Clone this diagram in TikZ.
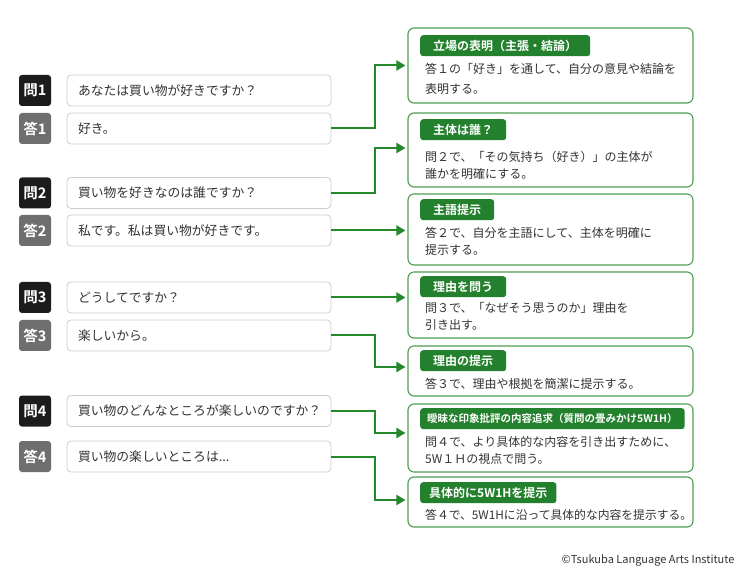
\documentclass[tikz,border=0pt]{standalone}
\usepackage{fontspec}
\setmainfont{Noto Sans CJK JP}[BoldFont={Noto Sans CJK JP Bold}]
\usetikzlibrary{arrows.meta}
\definecolor{qdark}{HTML}{1C1C1C}
\definecolor{agray}{HTML}{6E6E6E}
\definecolor{tagGreen}{HTML}{23802D}
\definecolor{boxGreen}{HTML}{4E9D4E}
\definecolor{lineGreen}{HTML}{24882C}
\definecolor{txt}{HTML}{333333}
\begin{document}
\begin{tikzpicture}[x=1pt,y=-1pt,
    qlabel/.style={rounded corners=3pt, fill=qdark, text=white, font=\fontsize{14.5}{14.5}\selectfont\bfseries, minimum width=32pt, minimum height=31pt, inner sep=0pt},
    alabel/.style={qlabel, fill=agray},
    tbox/.style={rounded corners=4pt, draw=gray!40, line width=0.8pt, fill=white, minimum height=31pt, text width=242pt, inner xsep=11pt, align=left, text=txt, font=\fontsize{12.8}{14}\selectfont},
    rbox/.style={rounded corners=6pt, draw=boxGreen, line width=1.1pt, minimum width=285pt, fill=white},
    tag/.style={rounded corners=3pt, fill=tagGreen, text=white, font=\fontsize{12}{12}\selectfont\bfseries, minimum height=21pt, inner xsep=13pt, inner ysep=0pt, anchor=north west},
    body/.style={anchor=north west, inner sep=0pt, align=left, text=txt, font=\fontsize{12}{17.5}\selectfont},
    link/.style={draw=lineGreen, line width=2pt, shorten >=2pt, -{Triangle[length=9pt,width=10pt]}}]
    \useasboundingbox[fill=white] (0,0) rectangle (745,580);
    \node[qlabel] (Q1) at (35,90.5) {問1};
    \node[tbox] (Q1t) at (199,90.5) {あなたは買い物が好きですか？};
    \node[alabel] (A1) at (35,128.5) {答1};
    \node[tbox] (A1t) at (199,128.5) {好き。};
    \node[qlabel] (Q2) at (35,193) {問2};
    \node[tbox] (Q2t) at (199,193) {買い物を好きなのは誰ですか？};
    \node[alabel] (A2) at (35,230.5) {答2};
    \node[tbox] (A2t) at (199,230.5) {私です。私は買い物が好きです。};
    \node[qlabel] (Q3) at (35,297.5) {問3};
    \node[tbox] (Q3t) at (199,297.5) {どうしてですか？};
    \node[alabel] (A3) at (35,335.5) {答3};
    \node[tbox] (A3t) at (199,335.5) {楽しいから。};
    \node[qlabel] (Q4) at (35,411) {問4};
    \node[tbox] (Q4t) at (199,411) {買い物のどんなところが楽しいのですか？};
    \node[alabel] (A4) at (35,456.5) {答4};
    \node[tbox] (A4t) at (199,456.5) {買い物の楽しいところは...};
    \node[rbox, minimum height=75pt] (R1) at (550.5,65.5) {};
    \node[rbox, minimum height=74pt] (R2) at (550.5,150) {};
    \node[rbox, minimum height=71pt] (R3) at (550.5,229.5) {};
    \node[rbox, minimum height=66pt] (R4) at (550.5,305) {};
    \node[rbox, minimum height=50pt] (R5) at (550.5,371) {};
    \node[rbox, minimum height=68pt] (R6) at (550.5,438) {};
    \node[rbox, minimum height=50pt] (R7) at (550.5,502) {};
    \node[tag] (T1) at (420,35) {立場の表明（主張・結論）};
    \node[tag] (T2) at (420,119) {主体は誰？};
    \node[tag] (T3) at (420,199) {主語提示};
    \node[tag] (T4) at (420,276) {理由を問う};
    \node[tag] (T5) at (420,350) {理由の提示};
    \node[tag, inner xsep=7pt, font=\fontsize{10.5}{10.5}\selectfont\bfseries] (T6) at (420,408) {曖昧な印象批評の内容追求（質問の畳みかけ5W1H）};
    \node[tag, inner xsep=9pt] (T7) at (420,482) {具体的に5W1Hを提示};
    \node[body, font=\fontsize{12}{20}\selectfont] (B1) at (425,63) {答１の「好き」を通して、自分の意見や結論を\\表明する。};
    \node[body] (B2) at (425,151) {問２で、「その気持ち（好き）」の主体が\\誰かを明確にする。};
    \node[body] (B3) at (425,227) {答２で、自分を主語にして、主体を明確に\\提示する。};
    \node[body] (B4) at (425,302) {問３で、「なぜそう思うのか」理由を\\引き出す。};
    \node[body] (B5) at (425,378) {答３で、理由や根拠を簡潔に提示する。};
    \node[body] (B6) at (425,436) {問４で、より具体的な内容を引き出すために、\\5W１Ｈの視点で問う。};
    \node[body, font=\fontsize{11.8}{17.5}\selectfont] (B7) at (425,509) {答４で、5W1Hに沿って具体的な内容を提示する。};
    \draw[link] (A1t.east) -- ++(44,0) |- (R1.west);
    \draw[link] (Q2t.east) -- ++(44,0) |- ([yshift=2pt]R2.west);
    \draw[link] (A2t.east) -- (A2t.east -| R3.west);
    \draw[link] (Q3t.east) -- (Q3t.east -| R4.west);
    \draw[link] (A3t.east) -- ++(44,0) |- ([yshift=4pt]R5.west);
    \draw[link] (Q4t.east) -- ++(44,0) |- ([yshift=5pt]R6.west);
    \draw[link] (A4t.east) -- ++(44,0) |- ([yshift=2pt]R7.west);
    \node[anchor=east, text=txt, font=\fontsize{11}{11}\selectfont] (C) at (738,560) {©Tsukuba Language Arts Institute};
  \end{tikzpicture}
\end{document}
